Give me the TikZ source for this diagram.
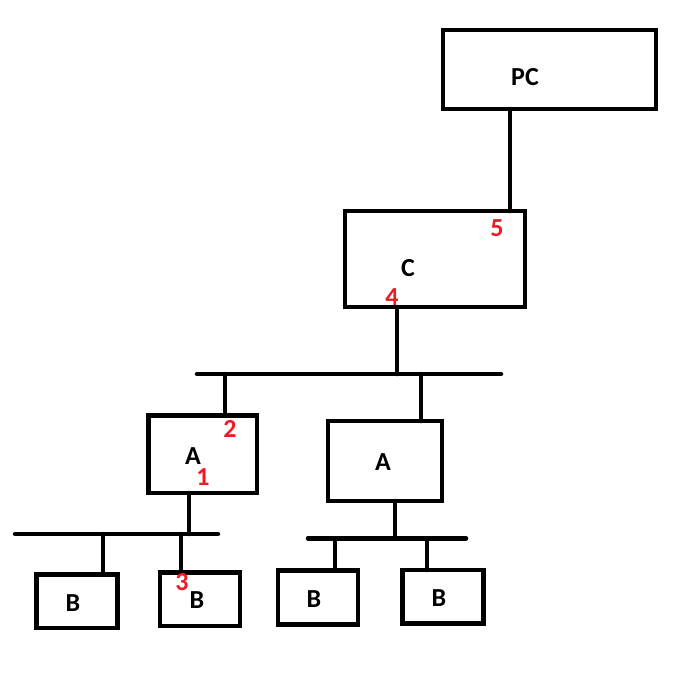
\documentclass[tikz,border=0pt]{standalone}
\usepackage{fontspec}
\setmainfont{Carlito}
\definecolor{paintred}{RGB}{237,28,36}
\begin{document}
\begin{tikzpicture}[x=1pt,y=-1pt,
  wire/.style={line width=4.5pt,line cap=round},
  boxline/.style={line width=4.5pt},
  lbl/.style={inner sep=0pt,font=\fontsize{26}{26}\selectfont\bfseries},
  num/.style={inner sep=0pt,font=\fontsize{26}{26}\selectfont\bfseries,text=paintred}]
\useasboundingbox[fill=white] (0,0) rectangle (674,672);
% boxes
\draw[boxline] (443,30) rectangle (656,109);
\draw[boxline] (345,211) rectangle (525,307);
\draw[boxline] (148.5,415.5) rectangle (257,493);
\draw[boxline] (328,421) rectangle (442,501);
\draw[boxline] (36.5,574.5) rectangle (117.5,628);
\draw[boxline] (160,572.7) rectangle (240,626);
\draw[boxline] (278,570.7) rectangle (358,624.7);
\draw[boxline] (402.7,570) rectangle (483.3,623.3);
% connection points
\coordinate (pcB) at (510,109);
\coordinate (cT) at (510,211);
\coordinate (cB) at (397,307);
\coordinate (bus1L) at (197,374);
\coordinate (bus1R) at (501,374);
\coordinate (bus1c) at (397,374);
\coordinate (bus1a) at (225,374);
\coordinate (bus1b) at (421,374);
\coordinate (a1T) at (225,415.5);
\coordinate (a2T) at (421,421);
\coordinate (a1B) at (189,493);
\coordinate (a2B) at (395,501);
\coordinate (bus2L) at (15,534);
\coordinate (bus2R) at (218,534);
\coordinate (bus2a) at (189,534);
\coordinate (bus2b1) at (103,534);
\coordinate (bus2b2) at (181,534);
\coordinate (b1T) at (103,574.5);
\coordinate (b2T) at (181,572.7);
\coordinate (bus3L) at (308,538.3);
\coordinate (bus3R) at (466,538.3);
\coordinate (bus3a) at (395,538.3);
\coordinate (bus3b3) at (335,538.3);
\coordinate (bus3b4) at (427,538.3);
\coordinate (b3T) at (335,570.7);
\coordinate (b4T) at (427,570);
% wires
\draw[wire] (pcB) -- (cT);
\draw[wire] (cB) -- (bus1c);
\draw[wire] (bus1L) -- (bus1R);
\draw[wire] (bus1a) -- (a1T);
\draw[wire] (bus1b) -- (a2T);
\draw[wire] (a1B) -- (bus2a);
\draw[wire] (bus2L) -- (bus2R);
\draw[wire] (bus2b1) -- (b1T);
\draw[wire] (bus2b2) -- (b2T);
\draw[wire] (a2B) -- (bus3a);
\draw[wire] (bus3L) -- (bus3R);
\draw[wire] (bus3b3) -- (b3T);
\draw[wire] (bus3b4) -- (b4T);
% labels
\node[lbl] (tPC) at (525,77) {PC};
\node[lbl] (tC) at (408,268) {C};
\node[lbl] (tA1) at (193,456) {A};
\node[lbl] (tA2) at (383,462) {A};
\node[lbl] (tB1) at (73,603) {B};
\node[lbl] (tB2) at (197,600) {B};
\node[lbl] (tB3) at (314,599) {B};
\node[lbl] (tB4) at (439,598) {B};
\node[num] (n5) at (497,228) {5};
\node[num] (n4) at (392,297) {4};
\node[num] (n2) at (230,429) {2};
\node[num] (n1) at (203,477) {1};
\node[num] (n3) at (182,582) {3};
\end{tikzpicture}
\end{document}
